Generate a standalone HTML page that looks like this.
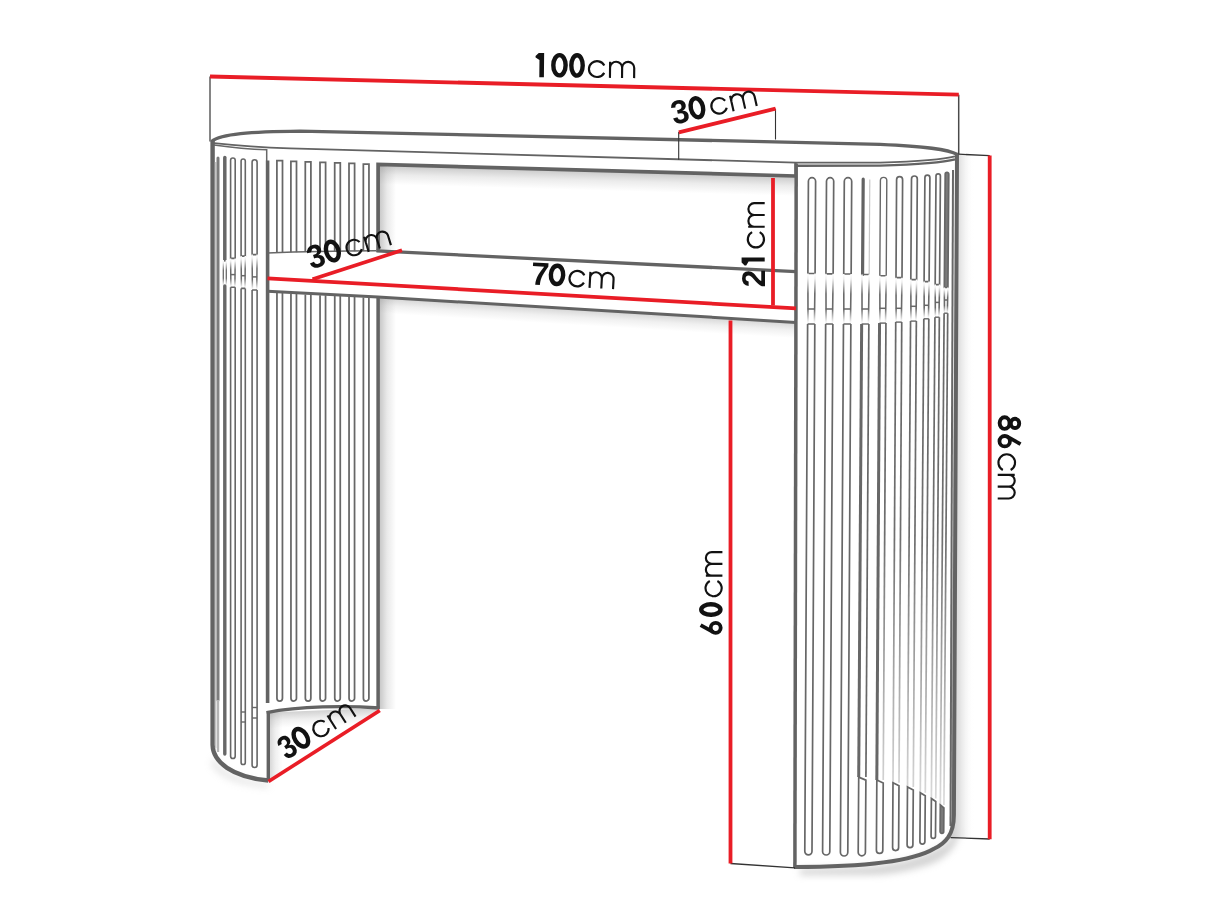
<!DOCTYPE html>
<html><head><meta charset="utf-8"><style>
html,body{margin:0;padding:0;background:#fff;}
svg{display:block;}
</style></head><body>
<svg width="1214" height="911" viewBox="0 0 1214 911">
<defs>
<linearGradient id="gR" x1="0" y1="0" x2="1" y2="0"><stop offset="0" stop-color="#c8c8c8"/><stop offset="0.45" stop-color="#e6e6e6"/><stop offset="1" stop-color="#fff" stop-opacity="0"/></linearGradient>
<linearGradient id="gF" gradientUnits="userSpaceOnUse" x1="0" y1="320" x2="0" y2="800"><stop offset="0" stop-color="#686868"/><stop offset="0.45" stop-color="#6e6e6e"/><stop offset="1" stop-color="#dadada"/></linearGradient>
<linearGradient id="gB" x1="0" y1="0" x2="0" y2="1"><stop offset="0" stop-color="#fff"/><stop offset="0.1" stop-color="#eee"/><stop offset="0.4" stop-color="#6a6a6a"/><stop offset="0.7" stop-color="#6a6a6a"/><stop offset="0.95" stop-color="#f0f0f0"/><stop offset="1" stop-color="#fff"/></linearGradient>
<filter id="blur4" x="-50%" y="-50%" width="200%" height="200%"><feGaussianBlur stdDeviation="3.5"/></filter>
<filter id="blur6" x="-50%" y="-50%" width="200%" height="200%"><feGaussianBlur stdDeviation="6"/></filter>
<filter id="blur5" x="-50%" y="-50%" width="200%" height="200%"><feGaussianBlur stdDeviation="5"/></filter>
<clipPath id="cUp"><path d="M378,164.4 L795.5,176 L795.5,271.6 L378,251 Z"/></clipPath><clipPath id="cLo"><path d="M378,297.5 L795.5,322.4 L795.5,880 L378,880 Z"/></clipPath><clipPath id="cIn"><path d="M268,712.5 C300,706 345,705.5 379,708 L379,711 L268,781 Z"/></clipPath><linearGradient id="gs1" gradientUnits="userSpaceOnUse" x1="378" y1="164.4" x2="377.44" y2="184.39"><stop offset="0" stop-color="#999" stop-opacity="0.55"/><stop offset="0.5" stop-color="#999" stop-opacity="0.1925"/><stop offset="1" stop-color="#999" stop-opacity="0"/></linearGradient><linearGradient id="gs2" gradientUnits="userSpaceOnUse" x1="378" y1="251" x2="396" y2="251"><stop offset="0" stop-color="#999" stop-opacity="0.6"/><stop offset="0.5" stop-color="#999" stop-opacity="0.21"/><stop offset="1" stop-color="#999" stop-opacity="0"/></linearGradient><linearGradient id="gs3" gradientUnits="userSpaceOnUse" x1="378" y1="297.2" x2="377.04" y2="313.17"><stop offset="0" stop-color="#999" stop-opacity="0.42"/><stop offset="0.5" stop-color="#999" stop-opacity="0.147"/><stop offset="1" stop-color="#999" stop-opacity="0"/></linearGradient><linearGradient id="gs4" gradientUnits="userSpaceOnUse" x1="378" y1="709" x2="396" y2="709"><stop offset="0" stop-color="#999" stop-opacity="0.62"/><stop offset="0.5" stop-color="#999" stop-opacity="0.217"/><stop offset="1" stop-color="#999" stop-opacity="0"/></linearGradient><linearGradient id="gs5" gradientUnits="userSpaceOnUse" x1="268.3" y1="712.5" x2="268.95" y2="728.49"><stop offset="0" stop-color="#999" stop-opacity="0.45"/><stop offset="0.5" stop-color="#999" stop-opacity="0.1575"/><stop offset="1" stop-color="#999" stop-opacity="0"/></linearGradient><linearGradient id="gs6" gradientUnits="userSpaceOnUse" x1="268.3" y1="781" x2="282.3" y2="781"><stop offset="0" stop-color="#999" stop-opacity="0.45"/><stop offset="0.5" stop-color="#999" stop-opacity="0.1575"/><stop offset="1" stop-color="#999" stop-opacity="0"/></linearGradient>
</defs>
<rect width="1214" height="911" fill="#fff"/>
<g filter="url(#blur4)" opacity="0.5">
<path d="M800,869 L870,866.5 C905,863 925,855 940,847 C949,842 954,834 956,822 L960,830 C957,848 945,860 925,866 C905,872 885,875 870,875 L800,875 Z" stroke="none" stroke-width="0" fill="#a8a8a8" />
<g opacity="0.6">
<path d="M214,756 C218,768 232,778 268,783 L269,788 C235,785 218,777 211,764 Z" stroke="none" stroke-width="0" fill="#b0b0b0" />
</g>
</g>
<path d="M956,154.3 L974,155.3 L974,837.4 L950,837.4 Z" fill="url(#gR)"/>
<path d="M378,164.4 L795.5,176 L794.94,195.99 L377.44,184.39 Z" fill="url(#gs1)" clip-path="url(#cUp)"/>
<path d="M378,251 L378,164.4 L396,164.4 L396,251 Z" fill="url(#gs2)" clip-path="url(#cUp)"/>
<path d="M378,297.2 L795.5,322.4 L794.54,338.37 L377.04,313.17 Z" fill="url(#gs3)" clip-path="url(#cLo)"/>
<path d="M378,709 L378,297.2 L396,297.2 L396,709 Z" fill="url(#gs4)" clip-path="url(#cLo)"/>
<path d="M268.3,712.5 L379,708 L379.65,723.99 L268.95,728.49 Z" fill="url(#gs5)" clip-path="url(#cIn)"/>
<path d="M268.3,781 L268.3,712.5 L282.3,712.5 L282.3,781 Z" fill="url(#gs6)" clip-path="url(#cIn)"/>
<path d="M211.5,141.5 C221,134 250,131.6 300,131.1 L880,144.3 C925,146.3 948,149 957.5,154.5" stroke="#636363" stroke-width="3.3" fill="none" />
<path d="M214,143.2 C235,145.5 262,147.5 290,148.4 L796,162.6 L880,162.6 C915,161.5 945,159 955,156.3" stroke="#636363" stroke-width="1.8" fill="none" />
<path d="M214,145 C232,147.5 250,149.2 266.7,149.8 L266.7,161" stroke="#676767" stroke-width="1.5" fill="none" />
<path d="M796,165.8 L880,165.6 C915,164.5 945,162 955,159.3" stroke="#636363" stroke-width="2.4" fill="none" />
<path d="M378.1,252 L378.1,164.4 L795.5,176" stroke="#636363" stroke-width="3.7" fill="none" />
<line x1="795.5" y1="162.6" x2="795.5" y2="177" stroke="#636363" stroke-width="2.4" stroke-linecap="butt"/>
<path d="M267.5,253 C300,251.8 340,251 376,250.8" stroke="#676767" stroke-width="1.6" fill="none" />
<line x1="376.5" y1="250.8" x2="796" y2="271.6" stroke="#636363" stroke-width="3.3" stroke-linecap="butt"/>
<path d="M267.5,291.2 L378,297 L796,322.4" stroke="#636363" stroke-width="3.0" fill="none" />
<line x1="378.1" y1="297" x2="378.1" y2="709" stroke="#636363" stroke-width="3.5" stroke-linecap="butt"/>
<path d="M212.6,141 L212.6,745 C213,762 232,777 268.3,780.5" stroke="#636363" stroke-width="4.4" fill="none" />
<line x1="267.6" y1="160.5" x2="267.6" y2="703" stroke="#636363" stroke-width="3.6" stroke-linecap="butt"/>
<line x1="268.3" y1="711" x2="268.3" y2="781" stroke="#636363" stroke-width="3.4" stroke-linecap="butt"/>
<path d="M266.6,712.6 C300,706 345,705.5 379.5,708" stroke="#636363" stroke-width="3.4" fill="none" />
<path d="M276.9,252.6 L276.9,160.7 L282.5,160.7 L282.5,252.6" stroke="#676767" stroke-width="1.75" fill="none" />
<path d="M276.95,292.9 L276.95,698.25 A2.75,2.75 0 0 0 282.45,698.25 L282.45,292.9" stroke="#676767" stroke-width="1.75" fill="none" />
<path d="M290.9,252.35 L290.9,161.25 L296.5,161.25 L296.5,252.35" stroke="#676767" stroke-width="1.75" fill="none" />
<path d="M290.95,293.65 L290.95,698.25 A2.75,2.75 0 0 0 296.45,698.25 L296.45,293.65" stroke="#676767" stroke-width="1.75" fill="none" />
<path d="M305.3,252.1 L305.3,161.8 L310.9,161.8 L310.9,252.1" stroke="#676767" stroke-width="1.75" fill="none" />
<path d="M305.35,294.4 L305.35,698.25 A2.75,2.75 0 0 0 310.85,698.25 L310.85,294.4" stroke="#676767" stroke-width="1.75" fill="none" />
<path d="M320,251.85 L320,162.35 L325.6,162.35 L325.6,251.85" stroke="#676767" stroke-width="1.75" fill="none" />
<path d="M320.05,295.15 L320.05,698.25 A2.75,2.75 0 0 0 325.55,698.25 L325.55,295.15" stroke="#676767" stroke-width="1.75" fill="none" />
<path d="M334.7,251.6 L334.7,162.9 L340.3,162.9 L340.3,251.6" stroke="#676767" stroke-width="1.75" fill="none" />
<path d="M334.75,295.9 L334.75,698.25 A2.75,2.75 0 0 0 340.25,698.25 L340.25,295.9" stroke="#676767" stroke-width="1.75" fill="none" />
<path d="M349,251.35 L349,163.45 L354.6,163.45 L354.6,251.35" stroke="#676767" stroke-width="1.75" fill="none" />
<path d="M349.05,296.65 L349.05,698.25 A2.75,2.75 0 0 0 354.55,698.25 L354.55,296.65" stroke="#676767" stroke-width="1.75" fill="none" />
<path d="M363.35,251.1 L363.35,164 L368.95,164 L368.95,251.1" stroke="#676767" stroke-width="1.75" fill="none" />
<path d="M363.4,297.4 L363.4,698.25 A2.75,2.75 0 0 0 368.9,698.25 L368.9,297.4" stroke="#676767" stroke-width="1.75" fill="none" />
<line x1="215.6" y1="162" x2="215.6" y2="748" stroke="#c4c4c4" stroke-width="1.5" stroke-linecap="butt"/>
<path d="M218.0,158 L218.0,700" stroke="#7c7c7c" stroke-width="3.0" fill="none" stroke-linecap="round"/>
<line x1="218" y1="700" x2="218" y2="752" stroke="#b5b5b5" stroke-width="2.4" stroke-linecap="butt"/>
<path d="M224.8,157.5 L224.8,260" stroke="#676767" stroke-width="3.5" fill="none" stroke-linecap="round"/>
<path d="M223.3,260 L223.3,286 M226.3,260 L226.3,286" stroke="url(#gB)" stroke-width="1.3" fill="none" />
<path d="M224.8,286 L224.8,754" stroke="#676767" stroke-width="3.4" fill="none" stroke-linecap="round"/>
<path d="M230.6,258.4 L230.6,160.3 A2.3,2.3 0 0 1 235.2,160.3 L235.2,258.4 Z" stroke="#676767" stroke-width="1.6" fill="none" />
<path d="M230.6,258.4 L230.9,287.3 M235.2,258.4 L234.9,287.3" stroke="url(#gB)" stroke-width="1.5" fill="none" />
<line x1="230.6" y1="274.6" x2="235.2" y2="274.6" stroke="#676767" stroke-width="1.5" stroke-linecap="butt"/>
<path d="M230.6,287.3 L235.2,287.3 M230.6,287.3 L230.6,756.2 A2.3,2.3 0 0 0 235.2,756.2 L235.2,287.3" stroke="#676767" stroke-width="1.6" fill="none" />
<path d="M241.1,256.1 L241.1,161.1 A2.1,2.1 0 0 1 245.3,161.1 L245.3,256.1 Z" stroke="#676767" stroke-width="1.6" fill="none" />
<path d="M241.1,256.1 L241.4,288.4 M245.3,256.1 L245,288.4" stroke="url(#gB)" stroke-width="1.5" fill="none" />
<line x1="241.1" y1="275.7" x2="245.3" y2="275.7" stroke="#676767" stroke-width="1.5" stroke-linecap="butt"/>
<path d="M241.1,288.4 L245.3,288.4 M241.1,288.4 L241.1,762.4 A2.1,2.1 0 0 0 245.3,762.4 L245.3,288.4" stroke="#676767" stroke-width="1.6" fill="none" />
<line x1="241.1" y1="712" x2="245.3" y2="712" stroke="#676767" stroke-width="1.4" stroke-linecap="butt"/>
<line x1="241.1" y1="722" x2="245.3" y2="722" stroke="#676767" stroke-width="1.4" stroke-linecap="butt"/>
<path d="M252.1,254.6 L252.1,162.3 A2.5,2.5 0 0 1 257.1,162.3 L257.1,254.6 Z" stroke="#676767" stroke-width="1.6" fill="none" />
<path d="M252.1,254.6 L252.4,290 M257.1,254.6 L256.8,290" stroke="url(#gB)" stroke-width="1.5" fill="none" />
<line x1="252.1" y1="276.9" x2="257.1" y2="276.9" stroke="#676767" stroke-width="1.5" stroke-linecap="butt"/>
<path d="M252.1,290 L257.1,290 M252.1,290 L252.1,765 A2.5,2.5 0 0 0 257.1,765 L257.1,290" stroke="#676767" stroke-width="1.6" fill="none" />
<line x1="252.1" y1="707.5" x2="257.1" y2="707.5" stroke="#676767" stroke-width="1.4" stroke-linecap="butt"/>
<line x1="252.1" y1="718" x2="257.1" y2="718" stroke="#676767" stroke-width="1.4" stroke-linecap="butt"/>
<line x1="796.2" y1="163.5" x2="794.9" y2="868" stroke="#636363" stroke-width="3.5" stroke-linecap="butt"/>
<path d="M957,153.5 L953.9,815 C953.9,834 946,843 933.9,848.8 C915,860 870,867 794,867" stroke="#636363" stroke-width="4.0" fill="none" />
<path d="M807.89,273.5 L808.4,181.3 A3.6,3.6 0 0 1 815.6,181.3 L815.09,273.5 Z" stroke="#676767" stroke-width="1.7" fill="none" />
<path d="M807.89,273.5 L808.02,324 M815.09,273.5 L814.42,324" stroke="url(#gB)" stroke-width="1.6" fill="none" />
<line x1="807.7" y1="309" x2="814.9" y2="309" stroke="#676767" stroke-width="1.5" stroke-linecap="butt"/>
<path d="M807.62,324 L814.82,324 M807.62,324 L804.8,851.3 A3.6,3.6 0 0 0 812,851.3 L814.82,324" stroke="#676767" stroke-width="1.7" fill="none" />
<path d="M825.95,273.8 L826.5,181.3 A3.6,3.6 0 0 1 833.7,181.3 L833.15,273.8 Z" stroke="#676767" stroke-width="1.7" fill="none" />
<path d="M825.95,273.8 L826.06,324 M833.15,273.8 L832.46,324" stroke="url(#gB)" stroke-width="1.6" fill="none" />
<line x1="825.74" y1="309" x2="832.94" y2="309" stroke="#676767" stroke-width="1.5" stroke-linecap="butt"/>
<path d="M825.66,324 L832.86,324 M825.66,324 L822.6,851.4 A3.6,3.6 0 0 0 829.8,851.4 L832.86,324" stroke="#676767" stroke-width="1.7" fill="none" />
<path d="M843.75,274 L844.3,181.4 A3.7,3.7 0 0 1 851.7,181.4 L851.15,274 Z" stroke="#676767" stroke-width="1.7" fill="none" />
<path d="M843.75,274 L843.86,324 M851.15,274 L850.46,324" stroke="url(#gB)" stroke-width="1.6" fill="none" />
<line x1="843.55" y1="309" x2="850.95" y2="309" stroke="#676767" stroke-width="1.5" stroke-linecap="butt"/>
<path d="M843.46,324 L850.86,324 M843.46,324 L840.4,852.3 A3.7,3.7 0 0 0 847.8,852.3 L850.86,324" stroke="#676767" stroke-width="1.7" fill="none" />
<path d="M862.57,274.5 L863.2,179.2" stroke="#636363" stroke-width="3.2" fill="none" stroke-linecap="round"/>
<line x1="869.8" y1="179.6" x2="869.17" y2="274.5" stroke="#c8c8c8" stroke-width="1.2" stroke-linecap="butt"/>
<line x1="861.97" y1="274.5" x2="869.17" y2="274.5" stroke="#676767" stroke-width="1.5" stroke-linecap="butt"/>
<path d="M861.97,274.5 L862.05,324 M869.17,274.5 L868.45,324" stroke="url(#gB)" stroke-width="1.6" fill="none" />
<line x1="861.75" y1="309" x2="868.95" y2="309" stroke="#676767" stroke-width="1.5" stroke-linecap="butt"/>
<line x1="861.65" y1="324" x2="858.71" y2="777.1" stroke="#676767" stroke-width="3.0" stroke-linecap="butt"/>
<line x1="868.85" y1="324" x2="865.91" y2="777.1" stroke="#676767" stroke-width="1.7" stroke-linecap="butt"/>
<line x1="861.65" y1="324" x2="868.85" y2="324" stroke="#676767" stroke-width="1.4" stroke-linecap="butt"/>
<path d="M858.71,777.1 L865.89,780.1 L865.4,852.2 A3.6,3.6 0 0 1 858.2,852.2 Z" stroke="#676767" stroke-width="1.7" fill="none" />
<path d="M879.82,275.7 L880.4,180.6 A3.2,3.2 0 0 1 886.8,180.6 L886.22,275.7 Z" stroke="#676767" stroke-width="1.4" fill="none" />
<path d="M879.82,275.7 L879.94,323.1 M886.22,275.7 L885.54,323.1" stroke="url(#gB)" stroke-width="1.6" fill="none" />
<line x1="879.63" y1="308.3" x2="886.03" y2="308.3" stroke="#676767" stroke-width="1.5" stroke-linecap="butt"/>
<line x1="879.54" y1="323.1" x2="876.83" y2="780" stroke="#676767" stroke-width="3.0" stroke-linecap="butt"/>
<line x1="885.94" y1="323.1" x2="883.23" y2="780" stroke="url(#gF)" stroke-width="1.7" stroke-linecap="butt"/>
<line x1="879.54" y1="323.1" x2="885.94" y2="323.1" stroke="#676767" stroke-width="1.4" stroke-linecap="butt"/>
<path d="M876.83,780 L883.22,783 L882.8,850.2 A3.2,3.2 0 0 1 876.4,850.2 Z" stroke="#676767" stroke-width="1.7" fill="none" />
<path d="M896,277.7 L896.6,179.7 A3,3 0 0 1 902.6,179.7 L902,277.7 Z" stroke="#676767" stroke-width="1.7" fill="none" />
<path d="M896,277.7 L896.14,322.1 M902,277.7 L901.34,322.1" stroke="url(#gB)" stroke-width="1.6" fill="none" />
<line x1="895.82" y1="308.3" x2="901.82" y2="308.3" stroke="#676767" stroke-width="1.5" stroke-linecap="butt"/>
<line x1="895.74" y1="322.1" x2="893" y2="782.8" stroke="url(#gF)" stroke-width="1.7" stroke-linecap="butt"/>
<line x1="901.74" y1="322.1" x2="899" y2="782.8" stroke="url(#gF)" stroke-width="1.7" stroke-linecap="butt"/>
<line x1="895.74" y1="322.1" x2="901.74" y2="322.1" stroke="#676767" stroke-width="1.4" stroke-linecap="butt"/>
<path d="M893,782.8 L898.98,785.8 L898.6,847.6 A3,3 0 0 1 892.6,847.6 Z" stroke="#676767" stroke-width="1.7" fill="none" />
<path d="M910.82,279.6 L911.5,178.9 A2.9,2.9 0 0 1 917.3,178.9 L916.62,279.6 Z" stroke="#676767" stroke-width="1.7" fill="none" />
<path d="M910.82,279.6 L910.95,321.1 M916.62,279.6 L915.95,321.1" stroke="url(#gB)" stroke-width="1.6" fill="none" />
<line x1="910.65" y1="306.3" x2="916.45" y2="306.3" stroke="#676767" stroke-width="1.5" stroke-linecap="butt"/>
<line x1="910.55" y1="321.1" x2="907.5" y2="787" stroke="url(#gF)" stroke-width="1.7" stroke-linecap="butt"/>
<line x1="916.35" y1="321.1" x2="913.3" y2="787" stroke="url(#gF)" stroke-width="1.7" stroke-linecap="butt"/>
<line x1="910.55" y1="321.1" x2="916.35" y2="321.1" stroke="#676767" stroke-width="1.4" stroke-linecap="butt"/>
<path d="M907.5,787 L913.28,790 L912.9,844.8 A2.9,2.9 0 0 1 907.1,844.8 Z" stroke="#676767" stroke-width="1.7" fill="none" />
<path d="M924.1,281.6 L924.9,177.7 A2.5,2.5 0 0 1 929.9,177.7 L929.1,281.6 Z" stroke="#676767" stroke-width="1.7" fill="none" />
<path d="M924.1,281.6 L924.23,318.8 M929.1,281.6 L928.43,318.8" stroke="url(#gB)" stroke-width="1.6" fill="none" />
<line x1="923.93" y1="305.3" x2="928.93" y2="305.3" stroke="#676767" stroke-width="1.5" stroke-linecap="butt"/>
<line x1="923.83" y1="318.8" x2="920.28" y2="792.8" stroke="url(#gF)" stroke-width="1.7" stroke-linecap="butt"/>
<line x1="928.83" y1="318.8" x2="925.28" y2="792.8" stroke="url(#gF)" stroke-width="1.7" stroke-linecap="butt"/>
<line x1="923.83" y1="318.8" x2="928.83" y2="318.8" stroke="#676767" stroke-width="1.4" stroke-linecap="butt"/>
<path d="M920.28,792.8 L925.26,795.8 L924.9,841.6 A2.5,2.5 0 0 1 919.9,841.6 Z" stroke="#676767" stroke-width="1.7" fill="none" />
<path d="M935.18,284.6 L936,176.1 A2.2,2.2 0 0 1 940.4,176.1 L939.58,284.6 Z" stroke="#676767" stroke-width="1.7" fill="none" />
<path d="M935.18,284.6 L935.34,317.2 M939.58,284.6 L938.94,317.2" stroke="url(#gB)" stroke-width="1.6" fill="none" />
<line x1="935.05" y1="302.4" x2="939.45" y2="302.4" stroke="#676767" stroke-width="1.5" stroke-linecap="butt"/>
<line x1="934.94" y1="317.2" x2="931.39" y2="798.5" stroke="url(#gF)" stroke-width="1.7" stroke-linecap="butt"/>
<line x1="939.34" y1="317.2" x2="935.79" y2="798.5" stroke="url(#gF)" stroke-width="1.7" stroke-linecap="butt"/>
<line x1="934.94" y1="317.2" x2="939.34" y2="317.2" stroke="#676767" stroke-width="1.4" stroke-linecap="butt"/>
<path d="M931.39,798.5 L935.77,801.5 L935.5,836.2 A2.2,2.2 0 0 1 931.1,836.2 Z" stroke="#676767" stroke-width="1.7" fill="none" />
<path d="M944.31,287.5 L945.2,174.2 A1.8,1.8 0 0 1 948.8,174.2 L947.91,287.5 Z" stroke="#676767" stroke-width="1.7" fill="#7a7a7a" />
<path d="M944.31,287.5 L944.51,313.2 M947.91,287.5 L947.31,313.2" stroke="url(#gB)" stroke-width="1.6" fill="none" />
<line x1="944.22" y1="300" x2="947.82" y2="300" stroke="#676767" stroke-width="1.5" stroke-linecap="butt"/>
<line x1="944.11" y1="313.2" x2="940.32" y2="805" stroke="url(#gF)" stroke-width="1.7" stroke-linecap="butt"/>
<line x1="947.71" y1="313.2" x2="943.92" y2="805" stroke="url(#gF)" stroke-width="1.7" stroke-linecap="butt"/>
<line x1="944.11" y1="313.2" x2="947.71" y2="313.2" stroke="#676767" stroke-width="1.4" stroke-linecap="butt"/>
<path d="M940.32,805 L943.9,808 L943.7,831.6 A1.8,1.8 0 0 1 940.1,831.6 Z" stroke="#676767" stroke-width="1.7" fill="#7a7a7a" />
<line x1="953" y1="170" x2="950.5" y2="826" stroke="#676767" stroke-width="2.0" stroke-linecap="butt"/>
<line x1="210" y1="76.5" x2="210" y2="141.5" stroke="#5c5c5c" stroke-width="1.5" stroke-linecap="butt"/>
<line x1="958.7" y1="94.7" x2="958.7" y2="154.2" stroke="#4a4a4a" stroke-width="1.5" stroke-linecap="butt"/>
<line x1="678.7" y1="132" x2="678.7" y2="159.8" stroke="#333333" stroke-width="1.1" stroke-linecap="butt"/>
<line x1="775.5" y1="108.7" x2="775.5" y2="139.5" stroke="#333333" stroke-width="1.1" stroke-linecap="butt"/>
<line x1="958.7" y1="154.2" x2="989.7" y2="155.7" stroke="#333333" stroke-width="1.3" stroke-linecap="butt"/>
<line x1="730.5" y1="863.5" x2="795" y2="867.8" stroke="#333333" stroke-width="1.3" stroke-linecap="butt"/>
<line x1="950.6" y1="837.6" x2="989.7" y2="839" stroke="#333333" stroke-width="1.3" stroke-linecap="butt"/>
<line x1="210" y1="76.5" x2="958.8" y2="94.7" stroke="#e91d26" stroke-width="3.8" stroke-linecap="butt"/>
<line x1="678.8" y1="132.4" x2="775.6" y2="108.7" stroke="#e91d26" stroke-width="3.8" stroke-linecap="butt"/>
<line x1="773" y1="178" x2="773" y2="305.5" stroke="#e91d26" stroke-width="3.8" stroke-linecap="butt"/>
<line x1="267.5" y1="278.3" x2="796" y2="308.4" stroke="#e91d26" stroke-width="3.8" stroke-linecap="butt"/>
<line x1="312.5" y1="279.2" x2="402" y2="250.3" stroke="#e91d26" stroke-width="3.8" stroke-linecap="butt"/>
<line x1="730.5" y1="320.5" x2="730.5" y2="863.5" stroke="#e91d26" stroke-width="3.8" stroke-linecap="butt"/>
<line x1="989.7" y1="155.5" x2="989.7" y2="839.3" stroke="#e91d26" stroke-width="3.8" stroke-linecap="butt"/>
<line x1="268.5" y1="781.5" x2="379.8" y2="710.5" stroke="#e91d26" stroke-width="3.8" stroke-linecap="butt"/>
<g transform="translate(535.4,77.1) rotate(0.6)" fill="#121212" font-family="Liberation Sans">
<path d="M3.1,-24.2 L8.5,-24.2 L8.5,0 L3.9,0 L3.9,-17.2 L0,-19.6 L-0.1,-21.2 Z" fill="#121212"/>
<ellipse cx="23.95" cy="-12.1" rx="6.15" ry="10.15" fill="none" stroke="#121212" stroke-width="4.4"/>
<ellipse cx="41.5" cy="-12.1" rx="5.7" ry="10.15" fill="none" stroke="#121212" stroke-width="4.4"/>
<path d="M68.78,-12.37 A8.15,7.92 0 1 0 68.78,-4.93 M74.55,0 L74.55,-16.23 M74.55,-10.18 A6.04,6.04 0 0 1 86.63,-10.18 L86.63,0 M86.63,-10.18 A6.04,6.04 0 0 1 98.72,-10.18 L98.72,0" fill="none" stroke="#121212" stroke-width="2.15"/>
</g>
<g transform="translate(674.4,124.7) rotate(-12.8)" fill="#121212" font-family="Liberation Sans">
<text transform="translate(0,0) scale(0.9655,1)" x="-0.663" y="0" font-size="33.143" font-weight="bold">3</text>
<ellipse cx="25.7" cy="-11.6" rx="6.1" ry="9.65" fill="none" stroke="#121212" stroke-width="4.4"/>
<path d="M54.77,-12.15 A7.85,7.77 0 1 0 54.77,-4.85 M60.72,0 L60.72,-15.93 M60.72,-9.99 A5.93,5.93 0 0 1 72.58,-9.99 L72.58,0 M72.58,-9.99 A5.93,5.93 0 0 1 84.44,-9.99 L84.44,0" fill="none" stroke="#121212" stroke-width="2.15"/>
</g>
<g transform="translate(311.6,269.4) rotate(-17)" fill="#121212" font-family="Liberation Sans">
<text transform="translate(0,0) scale(0.9435,1)" x="-0.657" y="0" font-size="32.857" font-weight="bold">3</text>
<ellipse cx="25.2" cy="-11.5" rx="6.1" ry="9.55" fill="none" stroke="#121212" stroke-width="4.4"/>
<path d="M53.92,-12.15 A7.68,7.77 0 1 0 53.92,-4.85 M59.74,0 L59.74,-15.93 M59.74,-10.12 A5.81,5.81 0 0 1 71.35,-10.12 L71.35,0 M71.35,-10.12 A5.81,5.81 0 0 1 82.96,-10.12 L82.96,0" fill="none" stroke="#121212" stroke-width="2.15"/>
</g>
<g transform="translate(531.8,284.6) rotate(3.2)" fill="#121212" font-family="Liberation Sans">
<text transform="translate(0,0) scale(1.0184,1)" x="-1.287" y="0" font-size="32.174" font-weight="bold">7</text>
<ellipse cx="24.65" cy="-11.1" rx="6.15" ry="9.15" fill="none" stroke="#121212" stroke-width="4.4"/>
<path d="M51.93,-12.15 A7.78,7.77 0 1 0 51.93,-4.85 M57.82,0 L57.82,-15.93 M57.82,-10.04 A5.88,5.88 0 0 1 69.59,-10.04 L69.59,0 M69.59,-10.04 A5.88,5.88 0 0 1 81.35,-10.04 L81.35,0" fill="none" stroke="#121212" stroke-width="2.15"/>
</g>
<g transform="translate(764.7,286.2) rotate(-90)" fill="#121212" font-family="Liberation Sans">
<text transform="translate(0,0) scale(0.9647,1)" x="-0.990" y="0" font-size="33.000" font-weight="bold">2</text>
<path d="M23.8,-23.1 L28.8,-23.1 L28.8,0 L24.6,0 L24.6,-16.1 L20.7,-18.5 L20.6,-20.1 Z" fill="#121212"/>
<path d="M54.07,-12.59 A8.12,8.08 0 1 0 54.07,-5.01 M59.42,0 L59.42,-16.53 M59.42,-10.62 A5.91,5.91 0 0 1 71.23,-10.62 L71.23,0 M71.23,-10.62 A5.91,5.91 0 0 1 83.04,-10.62 L83.04,0" fill="none" stroke="#121212" stroke-width="2.15"/>
</g>
<g transform="translate(722.4,634.5) rotate(-90)" fill="#121212" font-family="Liberation Sans">
<ellipse cx="6.7" cy="-6.7" rx="5" ry="5" fill="none" stroke="#121212" stroke-width="3.8"/>
<line x1="2.38" y1="-9.11" x2="9.44" y2="-21.8" stroke="#121212" stroke-width="3.8"/>
<ellipse cx="24.95" cy="-11.55" rx="5.25" ry="9.6" fill="none" stroke="#121212" stroke-width="4.4"/>
<path d="M53.53,-12.59 A8.1,8.08 0 1 0 53.53,-5.01 M58.87,0 L58.87,-16.53 M58.87,-10.63 A5.89,5.89 0 0 1 70.66,-10.63 L70.66,0 M70.66,-10.63 A5.89,5.89 0 0 1 82.45,-10.63 L82.45,0" fill="none" stroke="#121212" stroke-width="2.15"/>
</g>
<g transform="translate(997.7,414.9) rotate(90)" fill="#121212" font-family="Liberation Sans">
<ellipse cx="8.2" cy="-6.9" rx="5.8" ry="4.95" fill="none" stroke="#121212" stroke-width="3.9"/>
<ellipse cx="8.5" cy="-17.3" rx="4.65" ry="4.2" fill="none" stroke="#121212" stroke-width="3.9"/>
<ellipse cx="26.32" cy="-7.02" rx="5.24" ry="5.24" fill="none" stroke="#121212" stroke-width="3.8"/>
<line x1="21.79" y1="-9.54" x2="29.19" y2="-22.84" stroke="#121212" stroke-width="3.8"/>
<path d="M55.11,-12.96 A8.35,8.33 0 1 0 55.11,-5.14 M59.97,0 L59.97,-17.03 M59.97,-11.13 A5.89,5.89 0 0 1 71.76,-11.13 L71.76,0 M71.76,-11.13 A5.89,5.89 0 0 1 83.55,-11.13 L83.55,0" fill="none" stroke="#121212" stroke-width="2.15"/>
</g>
<g transform="translate(286.9,760.3) rotate(-32.5)" fill="#121212" font-family="Liberation Sans">
<text transform="translate(0,0) scale(0.8643,1)" x="-0.657" y="0" font-size="32.857" font-weight="bold">3</text>
<ellipse cx="23.9" cy="-11.5" rx="6.1" ry="9.55" fill="none" stroke="#121212" stroke-width="4.4"/>
<path d="M52.51,-12.15 A7.63,7.77 0 1 0 52.51,-4.85 M58.29,0 L58.29,-15.93 M58.29,-10.16 A5.77,5.77 0 0 1 69.83,-10.16 L69.83,0 M69.83,-10.16 A5.77,5.77 0 0 1 81.37,-10.16 L81.37,0" fill="none" stroke="#121212" stroke-width="2.15"/>
</g>
</svg>
</body></html>
